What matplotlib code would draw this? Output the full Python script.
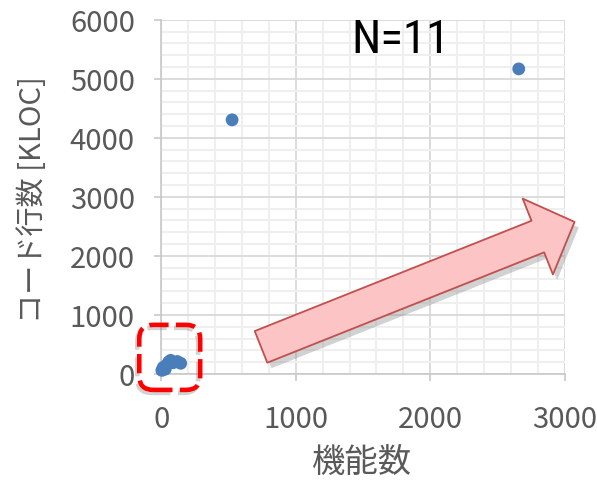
import numpy as np
import matplotlib
matplotlib.use("Agg")
import matplotlib.pyplot as plt
from matplotlib.patches import FancyBboxPatch
from matplotlib.transforms import IdentityTransform
import matplotlib.patheffects as pe

plt.rcParams['font.family'] = ['Noto Sans CJK JP', 'DejaVu Sans']

# ── Data ──────────────────────────────────────────────────────────────────────
n_functions = [5, 15, 30, 40, 55, 70, 90, 120, 145, 527, 2658]
kloc        = [60, 110, 80, 150, 200, 230, 190, 210, 180, 4305, 5169]
x_label = '機能数'
y_label = 'コード行数 [KLOC]'
note    = f'N={len(n_functions)}'

# highlight box around the small projects, and the trend arrow (data units)
box_x, box_y = (-163, 290), (-271, 831)
arrow_tail, arrow_tip = (742, 458), (3073, 2576)

GREY_TXT = '#595959'
DOT      = '#4a7ebb'

fig = plt.figure(figsize=(5.97, 4.85), dpi=100)
ax = fig.add_axes([0.270, 0.227, 0.676, 0.730])

ax.scatter(n_functions, kloc, s=85, color=DOT, edgecolors='none', zorder=3, clip_on=False)

ax.set_xlim(0, 3000)
ax.set_ylim(0, 6000)
ax.set_xticks(np.arange(0, 3001, 1000))
ax.set_yticks(np.arange(0, 6001, 1000))
ax.set_xticks(np.arange(0, 3001, 200), minor=True)
ax.set_yticks(np.arange(0, 6001, 200), minor=True)

ax.grid(which='minor', color='#efefef', linewidth=1.5, zorder=0)
ax.grid(which='major', color='#d9d9d9', linewidth=1.3, zorder=0)
ax.set_axisbelow(True)

for s in ('top', 'right'):
    ax.spines[s].set_visible(False)
for s in ('left', 'bottom'):
    ax.spines[s].set_color('#c8c8c8')
    ax.spines[s].set_linewidth(1.2)

ax.tick_params(which='major', length=5, width=1.2, color='#c8c8c8',
               labelsize=21, labelcolor=GREY_TXT)
ax.tick_params(axis='y', pad=14)
ax.tick_params(axis='x', pad=17)
ax.tick_params(which='minor', length=0)

ax.set_xlabel(x_label, fontsize=24, color=GREY_TXT)
ax.set_ylabel(y_label, fontsize=21, color=GREY_TXT)
ax.xaxis.label.set_va('center')
ax.yaxis.label.set_va('center')
ax.xaxis.set_label_coords(0.498, -0.246)
ax.yaxis.set_label_coords(-0.318, 0.494)

# narrow face for the sample-size note
ax.text(0.594, 0.91, note, transform=ax.transAxes, ha='center', va='baseline',
        fontsize=34, color='black', fontstretch='condensed',
        family=['Roboto Condensed', 'DejaVu Sans'])

# ── Red dashed rounded box (built in display pixels so corners stay round) ───
(x0, y0) = ax.transData.transform((box_x[0], box_y[0]))
(x1, y1) = ax.transData.transform((box_x[1], box_y[1]))
for dx, dy, col, a in [(-2, -3, '#808080', 0.35), (0, 0, '#ff0000', 1.0)]:
    box = FancyBboxPatch((x0 + dx, y0 + dy), x1 - x0, y1 - y0,
                         boxstyle='round,pad=0,rounding_size=14',
                         transform=IdentityTransform(), facecolor='none',
                         edgecolor=col, alpha=a, linewidth=3.3,
                         linestyle=(0, (4.2, 1.6)), zorder=5, clip_on=False)
    fig.add_artist(box)

# ── Big pink trend arrow ──────────────────────────────────────────────────────
arr = ax.annotate('', xy=arrow_tip, xytext=arrow_tail, annotation_clip=False,
                  arrowprops=dict(arrowstyle='simple,head_length=28.5,head_width=58.8,tail_width=24.5',
                                  mutation_scale=1, shrinkA=0, shrinkB=0,
                                  facecolor='#fcc4c4', edgecolor='#c0504d', linewidth=1.3))
arr.arrow_patch.set_path_effects([
    pe.SimplePatchShadow(offset=(3, -4), shadow_rgbFace='#808080', alpha=0.35),
    pe.Normal(),
])
arr.arrow_patch.set_zorder(6)

fig.savefig('out.png', dpi=100)
